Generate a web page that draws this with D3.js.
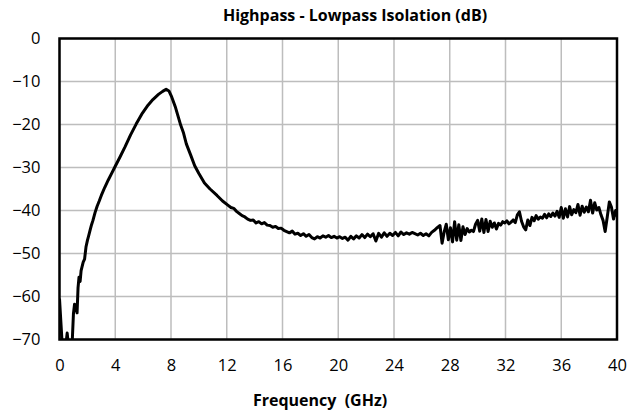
<!DOCTYPE html>
<html>
<head>
<meta charset="utf-8">
<script src="https://cdn.jsdelivr.net/npm/d3@7"></script>
<style>
  body { margin: 0; background: #fff; }
  text { font-family: "Open Sans", Lato, sans-serif; }
</style>
</head>
<body>
<svg id="chart"></svg>
<script>
// measured isolation, [frequency GHz, dB]
const isolation = [
  [0.0,-60.5],[0.1,-66],[0.2,-71.5],[0.45,-71.5],[0.55,-68.5],[0.65,-71.5],[0.9,-71.5],
  [1.0,-64],[1.08,-61.8],[1.18,-62.5],[1.26,-63.8],[1.33,-58],[1.4,-55.5],[1.48,-56.5],
  [1.55,-54],[1.7,-52],[1.8,-51.3],[1.9,-48.5],[2.0,-47],[2.1,-45.8],[2.2,-44.5],
  [2.3,-43.3],[2.4,-42.3],[2.55,-40.5],[2.7,-39],[2.85,-37.8],[3.0,-36.5],[3.25,-34.6],
  [3.5,-32.9],[3.75,-31.3],[4.0,-29.7],[4.35,-27.5],[4.7,-25.2],[5.1,-22.4],[5.5,-19.9],
  [5.9,-17.6],[6.35,-15.5],[6.7,-14.2],[7.1,-13.0],[7.4,-12.3],[7.65,-11.8],[7.85,-12.2],
  [8.05,-13.6],[8.3,-15.8],[8.5,-18.0],[8.7,-20.2],[8.9,-22.0],[9.1,-24.5],[9.4,-27.0],
  [9.7,-29.6],[10.0,-31.4],[10.4,-33.6],[10.8,-35.0],[11.3,-36.5],[11.7,-37.8],[12.1,-38.8],
  [12.3,-39.3],[12.5,-39.5],[12.7,-40.2],[12.9,-40.7],[13.1,-41.2],[13.3,-41.5],[13.5,-42.0],
  [13.7,-42.3],[13.9,-42.2],[14.1,-42.9],[14.3,-42.6],[14.5,-43.1],[14.7,-42.8],[14.9,-43.4],
  [15.1,-43.5],[15.3,-43.9],[15.5,-43.7],[15.7,-44.2],[15.9,-44.1],[16.1,-44.6],[16.3,-44.9],
  [16.5,-45.2],[16.7,-44.8],[16.9,-45.5],[17.1,-45.3],[17.3,-45.8],[17.5,-45.4],[17.7,-46.0],
  [17.9,-45.6],[18.1,-46.3],[18.3,-46.6],[18.5,-46.1],[18.7,-46.4],[18.9,-45.9],[19.1,-46.2],
  [19.3,-45.8],[19.5,-46.3],[19.7,-46.0],[19.9,-46.4],[20.1,-46.1],[20.3,-46.5],[20.5,-46.2],
  [20.7,-46.9],[20.9,-46.0],[21.1,-46.6],[21.3,-45.9],[21.5,-46.4],[21.7,-45.6],[21.9,-46.3],
  [22.1,-45.5],[22.3,-46.1],[22.5,-45.4],[22.7,-47.1],[22.9,-45.3],[23.1,-46.2],[23.3,-45.2],
  [23.5,-46.0],[23.7,-45.3],[23.9,-45.8],[24.1,-45.1],[24.3,-45.9],[24.5,-45.0],[24.7,-45.6],
  [24.9,-45.2],[25.1,-45.5],[25.3,-45.1],[25.5,-45.4],[25.7,-45.7],[25.9,-45.3],[26.1,-45.8],
  [26.3,-45.4],[26.5,-45.9],[26.7,-45.1],[26.9,-44.6],[27.1,-44.0],[27.3,-43.5],[27.45,-47.6],
  [27.6,-45.0],[27.75,-43.2],[27.9,-46.8],[28.05,-44.0],[28.2,-47.3],[28.35,-42.6],[28.5,-46.9],
  [28.65,-43.3],[28.8,-47.0],[28.95,-43.8],[29.1,-45.6],[29.25,-44.2],[29.4,-45.0],[29.55,-44.6],
  [29.7,-44.9],[29.85,-43.2],[30.0,-42.3],[30.15,-44.8],[30.3,-42.0],[30.45,-45.1],[30.6,-42.1],
  [30.75,-44.9],[30.9,-42.5],[31.05,-43.9],[31.2,-42.9],[31.35,-44.3],[31.5,-43.0],[31.65,-43.4],
  [31.8,-42.6],[31.95,-42.9],[32.1,-42.4],[32.25,-43.1],[32.4,-42.7],[32.55,-42.2],[32.7,-42.8],
  [32.85,-41.0],[33.0,-40.3],[33.15,-42.5],[33.3,-43.8],[33.45,-44.5],[33.6,-42.2],[33.75,-43.5],
  [33.9,-41.6],[34.05,-42.4],[34.2,-41.2],[34.35,-42.0],[34.5,-41.5],[34.65,-41.8],[34.8,-40.9],
  [34.95,-41.7],[35.1,-40.8],[35.25,-41.4],[35.4,-40.6],[35.55,-41.3],[35.7,-40.2],[35.85,-41.6],
  [36.0,-39.3],[36.15,-41.8],[36.3,-39.6],[36.45,-41.5],[36.6,-39.1],[36.75,-41.0],[36.9,-39.8],
  [37.05,-40.5],[37.2,-38.6],[37.35,-41.1],[37.5,-39.0],[37.65,-40.4],[37.8,-39.2],[37.95,-40.3],
  [38.1,-37.6],[38.25,-40.6],[38.4,-38.2],[38.55,-39.9],[38.7,-39.3],[38.85,-41.0],[39.0,-42.3],
  [39.15,-44.9],[39.3,-41.5],[39.45,-38.0],[39.6,-39.2],[39.75,-42.0],[39.9,-40.0],[40.0,-41.4]
];

const xTicks = [0, 4, 8, 12, 16, 20, 24, 28, 32, 36, 40];
const yTicks = [0, -10, -20, -30, -40, -50, -60, -70];

let width = 642,
  height = 412;
let margin = { top: 38.5, bottom: 72.5, left: 59.5, right: 25 };

let svg = d3.select("#chart").attr("width", width).attr("height", height);

let xScale = d3
  .scaleLinear()
  .domain([0, 40])
  .range([margin.left, width - margin.right]);

let yScale = d3
  .scaleLinear()
  .domain([-70, 0])
  .range([height - margin.bottom, margin.top]);

// gridlines
svg
  .selectAll(".vgrid")
  .data(xTicks)
  .enter()
  .append("line")
  .attr("class", "vgrid")
  .attr("x1", (d) => xScale(d))
  .attr("x2", (d) => xScale(d))
  .attr("y1", yScale(0))
  .attr("y2", yScale(-70))
  .attr("stroke", "#bdbdbd")
  .attr("stroke-width", 1.5);

svg
  .selectAll(".hgrid")
  .data(yTicks)
  .enter()
  .append("line")
  .attr("class", "hgrid")
  .attr("x1", xScale(0))
  .attr("x2", xScale(40))
  .attr("y1", (d) => yScale(d))
  .attr("y2", (d) => yScale(d))
  .attr("stroke", "#bdbdbd")
  .attr("stroke-width", 1.5);

// axes (labels only)
let xAxis = svg
  .append("g")
  .attr("transform", `translate(0, ${yScale(-70)})`)
  .call(d3.axisBottom(xScale).tickValues(xTicks).tickSize(0).tickPadding(20));
xAxis.select(".domain").remove();
xAxis.selectAll("text").attr("font-size", "16.5px").attr("fill", "#000").attr("font-family", "Open Sans");

let yAxis = svg
  .append("g")
  .attr("transform", `translate(${xScale(0)}, 0)`)
  .call(d3.axisLeft(yScale).tickValues(yTicks).tickSize(0).tickPadding(19));
yAxis.select(".domain").remove();
yAxis.selectAll("text").attr("font-size", "16.5px").attr("fill", "#000").attr("font-family", "Open Sans");

// curve, clipped to plot area
svg
  .append("clipPath")
  .attr("id", "plot-clip")
  .append("rect")
  .attr("x", xScale(0))
  .attr("y", yScale(0))
  .attr("width", xScale(40) - xScale(0))
  .attr("height", yScale(-70) - yScale(0));

let line = d3
  .line()
  .x((d) => xScale(d[0]))
  .y((d) => yScale(d[1]));

svg
  .append("path")
  .datum(isolation)
  .attr("clip-path", "url(#plot-clip)")
  .attr("d", line)
  .attr("fill", "none")
  .attr("stroke", "#000")
  .attr("stroke-width", 3)
  .attr("stroke-linejoin", "round");

// frame
svg
  .append("rect")
  .attr("x", xScale(0))
  .attr("y", yScale(0))
  .attr("width", xScale(40) - xScale(0))
  .attr("height", yScale(-70) - yScale(0))
  .attr("fill", "none")
  .attr("stroke", "#000")
  .attr("stroke-width", 2.5);

// titles
svg
  .append("text")
  .attr("x", 355)
  .attr("y", 21)
  .attr("text-anchor", "middle")
  .attr("font-size", "16px")
  .attr("font-weight", "bold")
  .text("Highpass - Lowpass Isolation (dB)");

svg
  .append("text")
  .attr("x", 320)
  .attr("y", 406)
  .attr("text-anchor", "middle")
  .attr("font-size", "16px")
  .attr("font-weight", "bold")
  .style("white-space", "pre")
  .text("Frequency  (GHz)");
</script>
</body>
</html>
